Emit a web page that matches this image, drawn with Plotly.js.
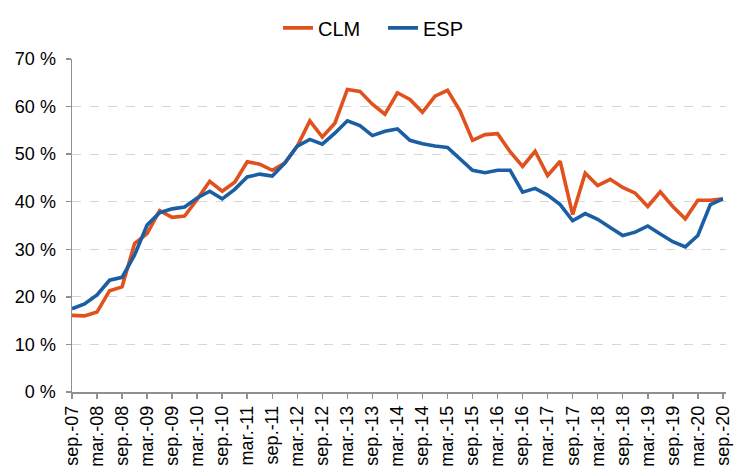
<!DOCTYPE html>
<html>
<head>
<meta charset="utf-8">
<script src="https://cdn.plot.ly/plotly-3.0.1.min.js"></script>
<style>html,body{margin:0;padding:0;background:#fff;}#chart{width:734px;height:476px;}</style>
</head>
<body>
<div id="chart"></div>
<script>
var quarters = ["sep.-07","dic.-07","mar.-08","jun.-08","sep.-08","dic.-08","mar.-09","jun.-09","sep.-09","dic.-09",
"mar.-10","jun.-10","sep.-10","dic.-10","mar.-11","jun.-11","sep.-11","dic.-11","mar.-12","jun.-12",
"sep.-12","dic.-12","mar.-13","jun.-13","sep.-13","dic.-13","mar.-14","jun.-14","sep.-14","dic.-14",
"mar.-15","jun.-15","sep.-15","dic.-15","mar.-16","jun.-16","sep.-16","dic.-16","mar.-17","jun.-17",
"sep.-17","dic.-17","mar.-18","jun.-18","sep.-18","dic.-18","mar.-19","jun.-19","sep.-19","dic.-19",
"mar.-20","jun.-20","sep.-20"];
var clm = [16.1,16.0,16.8,21.3,22.1,31.2,33.3,38.1,36.7,37.0,
40.5,44.3,42.2,44.1,48.4,47.9,46.6,48.1,51.7,57.0,
53.6,56.5,63.6,63.2,60.5,58.4,62.9,61.5,58.8,62.2,
63.4,59.1,52.9,54.1,54.3,50.5,47.4,50.6,45.5,48.5,
37.3,46.0,43.4,44.7,43.0,41.8,39.0,42.1,39.0,36.4,
40.3,40.3,40.6];
var esp = [17.5,18.5,20.4,23.5,24.1,28.8,35.1,37.7,38.5,38.9,
40.8,42.2,40.6,42.6,45.2,45.8,45.4,48.1,51.7,53.1,
52.1,54.4,57.0,56.0,53.9,54.8,55.3,52.9,52.2,51.7,
51.4,49.1,46.6,46.1,46.6,46.6,42.0,42.8,41.4,39.4,
36.0,37.5,36.3,34.6,32.9,33.6,34.9,33.2,31.6,30.5,
32.9,39.4,40.6];
var seriesNames = ["CLM", "ESP"];
var yTickVals = [0,10,20,30,40,50,60,70];
var yTickText = ["0 %","10 %","20 %","30 %","40 %","50 %","60 %","70 %"];
var tickLabels = quarters.filter(function(q, i){ return i % 2 === 0; });

var data = [
  {x: quarters, y: clm, name: seriesNames[0], type: 'scatter', mode: 'lines',
   line: {color: '#E1511D', width: 3.6}},
  {x: quarters, y: esp, name: seriesNames[1], type: 'scatter', mode: 'lines',
   line: {color: '#1B5EA4', width: 3.6}}
];
var layout = {
  width: 734, height: 476,
  margin: {l: 72, r: 8, t: 52, b: 84},
  paper_bgcolor: '#fff', plot_bgcolor: '#fff',
  font: {family: 'Liberation Sans, Arial, sans-serif', color: '#000'},
  showlegend: true,
  legend: {orientation: 'h', x: 0.315, xanchor: 'left', y: 1.035, yanchor: 'bottom',
           font: {size: 20, color: '#000'}, tracegroupgap: 0,
           entrywidth: 60, entrywidthmode: 'pixels'},
  xaxis: {
    type: 'category', range: [0, 52.25],
    tickmode: 'array', tickvals: tickLabels, ticktext: tickLabels,
    tickangle: -90, tickfont: {size: 18, color: '#000'},
    showgrid: false, zeroline: false,
    showline: true, linecolor: '#909090', linewidth: 1.5,
    ticks: 'outside', ticklen: 5, tickcolor: '#909090', tickwidth: 1.5
  },
  yaxis: {
    range: [0, 70], tickmode: 'array', tickvals: yTickVals, ticktext: yTickText,
    tickfont: {size: 18, color: '#000'}, ticklabelstandoff: 6,
    showgrid: true, gridcolor: '#d6d6d6', griddash: 'dash', gridwidth: 1,
    zeroline: false,
    showline: true, linecolor: '#909090', linewidth: 1.5,
    ticks: 'outside', ticklen: 5, tickcolor: '#909090', tickwidth: 1.5
  }
};
Plotly.newPlot('chart', data, layout, {displayModeBar: false, staticPlot: true});
</script>
</body>
</html>
